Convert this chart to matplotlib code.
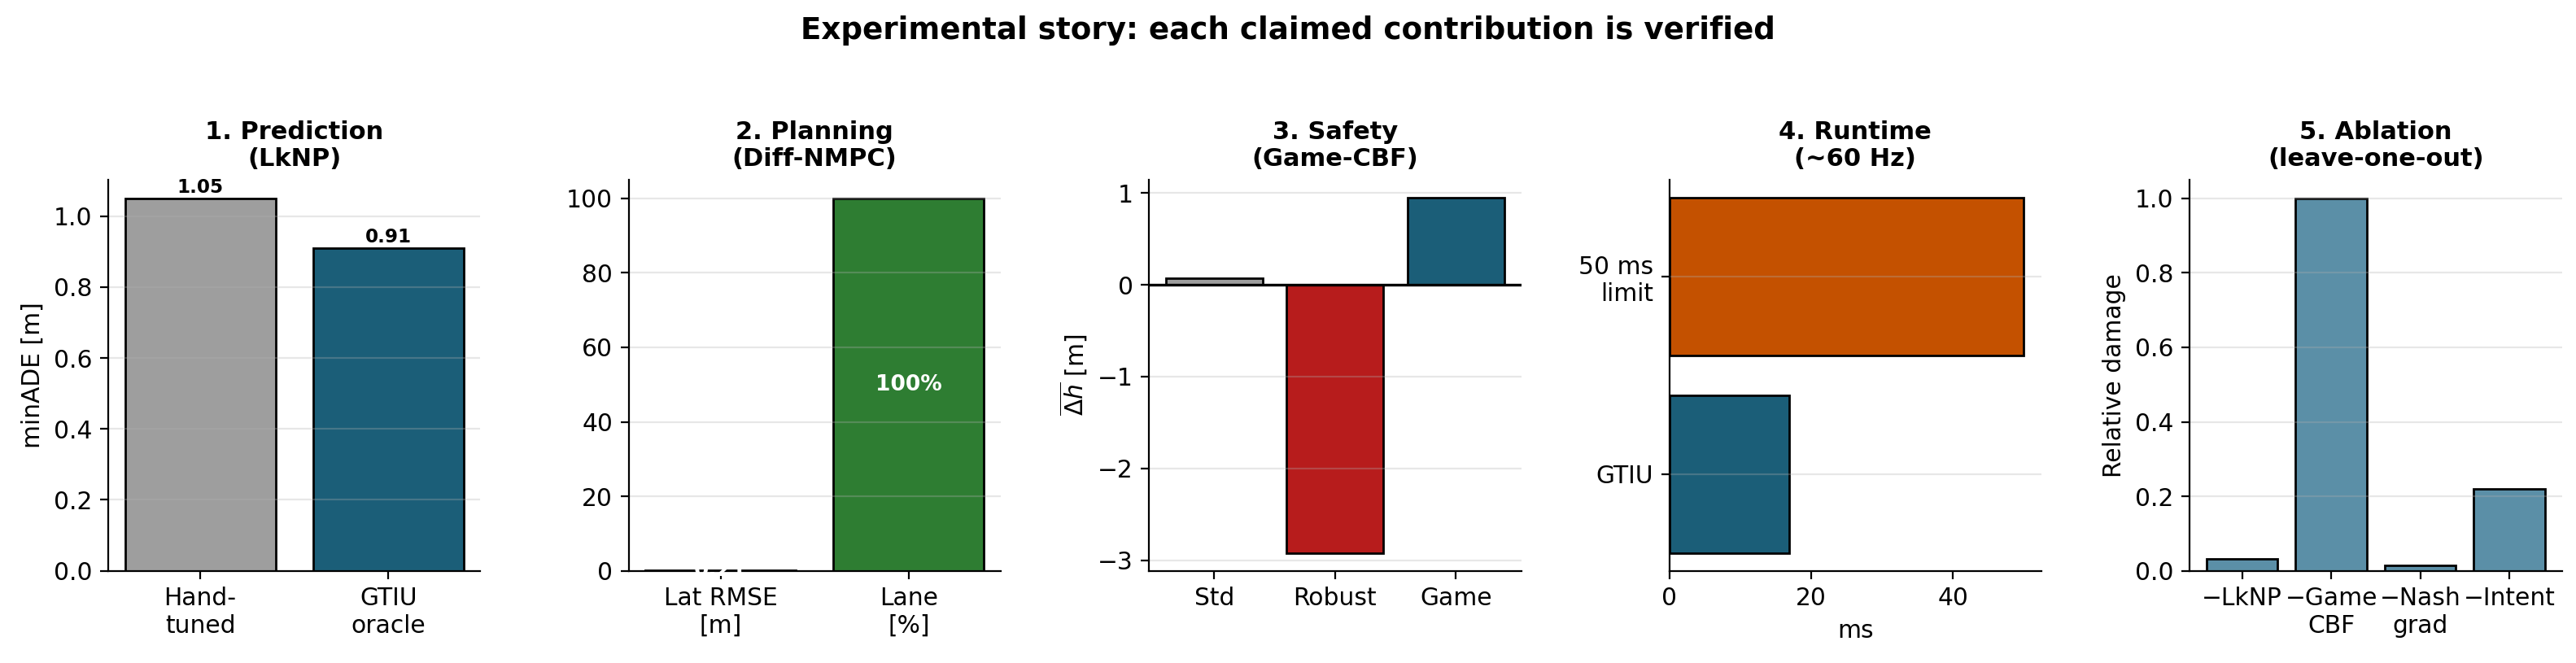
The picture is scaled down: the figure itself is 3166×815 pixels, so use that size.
import numpy as np
import matplotlib
matplotlib.use("Agg")
import matplotlib.pyplot as plt
from matplotlib.ticker import MultipleLocator

# panel data
pred_labels = ["Hand-\ntuned", "GTIU\noracle"]
pred_minade = [1.05, 0.91]

plan_labels = ["Lat RMSE\n[m]", "Lane\n[%]"]
plan_values = [0.21, 100.0]
plan_texts = ["0.21", "100%"]

safety_labels = ["Std", "Robust", "Game"]
safety_dh = [0.07, -2.92, 0.95]

runtime_labels = ["GTIU", "50 ms\nlimit"]
runtime_ms = [16.9, 50.0]

abl_labels = ["\u2212LkNP", "\u2212Game\nCBF", "\u2212Nash\ngrad", "\u2212Intent"]
abl_damage = [0.033, 1.0, 0.014, 0.22]

GREY = "#9e9e9e"
BLUE = "#1b5e78"
GREEN = "#2e7d32"
RED = "#b71c1c"
ORANGE = "#c45100"
LIGHTBLUE = "#5b8fa7"

plt.rcParams.update({
    "font.size": 10.7,
    "axes.titlesize": 11,
    "axes.titleweight": "bold",
    "axes.spines.top": False,
    "axes.spines.right": False,
})

fig, axes = plt.subplots(1, 5, figsize=(15.83, 4.075), dpi=200)
fig.subplots_adjust(left=0.042, right=0.9945, bottom=0.139, top=0.729, wspace=0.398)
edge = dict(edgecolor="black", linewidth=1.0)

def grid(ax):
    ax.grid(axis="y", color="#b0b0b0", linewidth=0.8, alpha=0.3)

# 1. prediction
ax = axes[0]
x = np.arange(len(pred_labels))
ax.bar(x, pred_minade, color=[GREY, BLUE], width=0.8, **edge)
for xi, v in zip(x, pred_minade):
    ax.text(xi, v + 0.005, f"{v:.2f}", ha="center", va="bottom", fontsize=8.3, fontweight="bold")
ax.set_xticks(x, pred_labels)
ax.set_ylabel("minADE [m]")
ax.set_title("1. Prediction\n(LkNP)")
grid(ax)

# 2. planning
ax = axes[1]
x = np.arange(len(plan_labels))
ax.bar(x, plan_values, color=[BLUE, GREEN], width=0.8, **edge)
for xi, v, t in zip(x, plan_values, plan_texts):
    ax.text(xi, v / 2, t, ha="center", va="center", color="white", fontsize=9.5, fontweight="bold")
ax.set_xticks(x, plan_labels)
ax.set_title("2. Planning\n(Diff-NMPC)")
grid(ax)

# 3. safety
ax = axes[2]
x = np.arange(len(safety_labels))
ax.bar(x, safety_dh, color=[GREY, RED, BLUE], width=0.8, **edge)
ax.axhline(0, color="black", linewidth=1.2)
ax.set_xticks(x, safety_labels)
ax.yaxis.set_major_locator(MultipleLocator(1))
ax.set_ylabel(r"$\overline{\Delta h}$ [m]")
ax.set_title("3. Safety\n(Game-CBF)")
grid(ax)

# 4. runtime
ax = axes[3]
y = np.arange(len(runtime_labels))
ax.barh(y, runtime_ms, color=[BLUE, ORANGE], height=0.8, **edge)
ax.set_yticks(y, runtime_labels)
ax.set_xlabel("ms")
ax.set_title("4. Runtime\n(~60 Hz)")
grid(ax)

# 5. ablation
ax = axes[4]
x = np.arange(len(abl_labels))
ax.bar(x, abl_damage, color=LIGHTBLUE, width=0.8, **edge)
ax.set_xticks(x, abl_labels)
ax.set_ylabel("Relative damage")
ax.set_title("5. Ablation\n(leave-one-out)")
grid(ax)

fig.suptitle("Experimental story: each claimed contribution is verified",
             fontsize=13.4, fontweight="bold", y=0.977, va="top")
fig.savefig("out.png", dpi=200)
